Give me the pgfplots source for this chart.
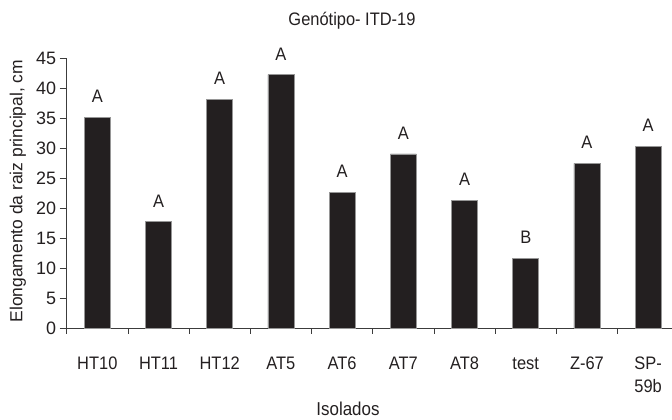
\documentclass[border=0pt]{standalone}
\usepackage{fontspec}
\setmainfont{Liberation Sans}
\usepackage{pgfplots}
\pgfplotsset{compat=1.18}
\definecolor{barc}{RGB}{35,31,32}
\definecolor{axc}{RGB}{60,60,60}
\begin{document}
\begin{tikzpicture}
\useasboundingbox (-66.7bp,-91.3bp) rectangle (605.3bp,328.7bp);
\begin{axis}[
  at={(0,0)}, anchor=south west,
  scale only axis,
  width=605.3bp, height=270.4bp,
  xmin=-0.5, xmax=9.39,
  ymin=0, ymax=45,
  axis x line=bottom, axis y line=left,
  axis line style={-, draw=axc, line width=0.8bp},
  clip=false,
  xtick={0,...,9},
  xticklabels={HT10,HT11,HT12,AT5,AT6,AT7,AT8,test,Z-67,{\begin{tabular}[t]{@{}c@{}}SP-\\59b\end{tabular}}},
  minor xtick={-0.5,0.5,...,8.5},
  major x tick style={draw=none},
  minor x tick style={draw=axc, line width=0.8bp},
  ytick={0,5,...,45},
  major y tick style={draw=axc, line width=0.8bp},
  tick align=outside,
  major tick length=7bp,
  minor tick length=5bp,
  /pgf/number format/assume math mode=true,
  xticklabel style={font=\fontsize{16.5}{21.4}\selectfont, anchor=base, yshift=-33.6bp, yscale=1.1, transform shape, text=barc},
  yticklabel style={font=\fontsize{18}{20}\selectfont, text=barc},
  title={Genótipo- ITD-19},
  title style={font=\fontsize{16.5}{20}\selectfont, at={(axis description cs:0.4713,1.101)}, anchor=base, yscale=1.1, transform shape, text=barc},
  xlabel={Isolados},
  xlabel style={font=\fontsize{17}{20}\selectfont, at={(axis description cs:0.4647,-0.3200)}, anchor=base, yscale=1.1, transform shape, text=barc},
  ylabel={Elongamento da raiz principal, cm},
  ylabel style={font=\fontsize{17.5}{20}\selectfont, at={(axis description cs:-0.0805,0.509)}, anchor=center, text=barc},
  ybar, bar width=0.425,
  nodes near coords,
  point meta=explicit symbolic,
  every node near coord/.append style={font=\fontsize{16.5}{20}\selectfont, anchor=base, yshift=14.5bp, yscale=1.1, transform shape, text=barc, inner sep=0pt},
]
\addplot[fill=barc, draw={rgb,255:red,150;green,150;blue,150}, line width=0.5bp] coordinates {
(0,35.2) [A]
(1,17.8) [A]
(2,38.2) [A]
(3,42.3) [A]
(4,22.7) [A]
(5,29.1) [A]
(6,21.4) [A]
(7,11.7) [B]
(8,27.5) [A]
(9,30.4) [A]
};
\end{axis}
\end{tikzpicture}
\end{document}
